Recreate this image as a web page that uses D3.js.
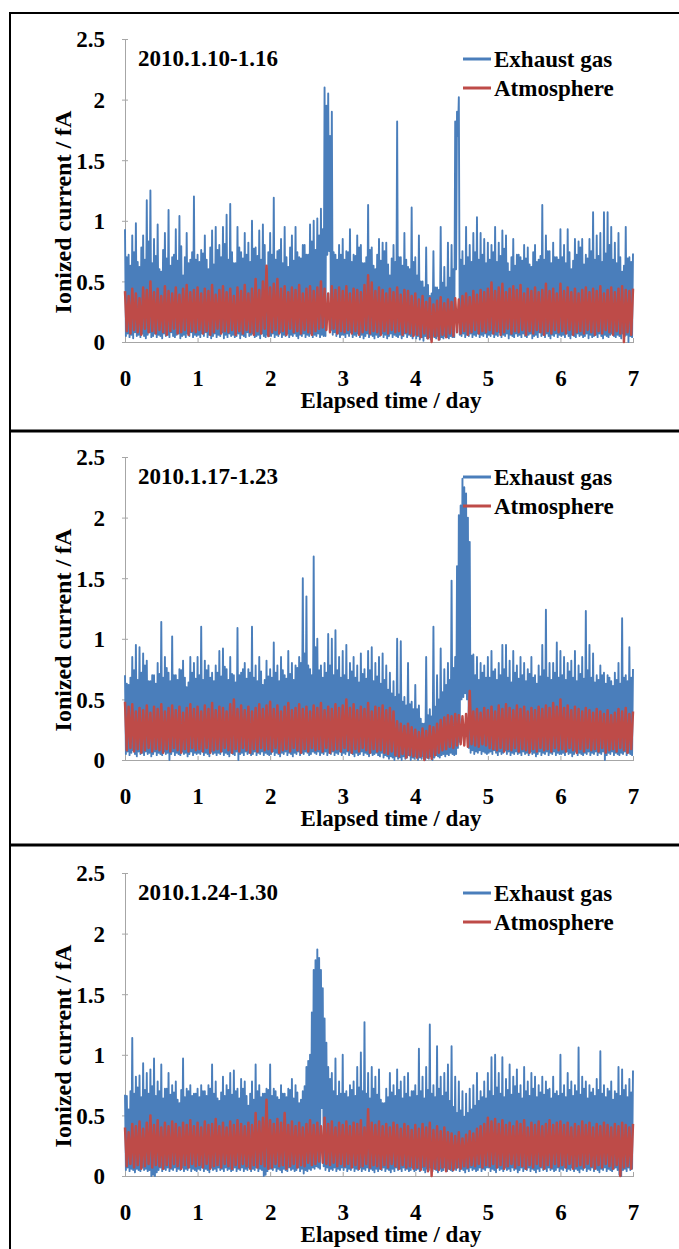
<!DOCTYPE html>
<html><head><meta charset="utf-8">
<script src="https://cdn.jsdelivr.net/npm/d3@7"></script>
<style>
body{margin:0;background:#fff}
svg{display:block}
text{font-family:"Liberation Serif","Times New Roman",serif;font-weight:bold;fill:#000}
</style>
</head><body><svg id="c" width="679" height="1249"></svg>
<script>
// ---- data ----
const periods = ["2010.1.10-1.16", "2010.1.17-1.23", "2010.1.24-1.30"];
const seriesNames = ["Exhaust gas", "Atmosphere"];
const xTicks = [0, 1, 2, 3, 4, 5, 6, 7];
const xTickLabels = ["0", "1", "2", "3", "4", "5", "6", "7"];
const yTicks = [0, 0.5, 1, 1.5, 2, 2.5];
const yTickLabels = ["0", "0.5", "1", "1.5", "2", "2.5"];
const xTitle = "Elapsed time / day";
const yTitle = "Ionized current / fA";

// Exhaust gas: local maxima every 0.025 day and the minima between them (fA)
const exhaustPeaks1 = [
0.93,0.70,0.72,0.63,0.88,0.74,0.98,0.66,0.62,0.78,0.88,0.68,1.17,0.83,1.25,0.65,0.85,0.71,0.97,0.60,
0.58,0.76,0.90,0.69,1.09,0.63,0.70,0.72,0.93,0.67,1.04,0.79,0.55,0.70,0.90,0.65,0.68,0.74,1.20,0.68,
0.72,0.66,0.76,0.73,0.88,0.68,0.60,0.78,0.92,0.64,0.95,0.76,0.80,0.70,0.95,0.81,1.05,0.68,1.14,0.74,
0.65,0.65,0.95,0.78,0.74,0.69,0.90,0.72,0.82,0.66,1.00,0.77,0.78,0.71,0.92,0.68,0.97,0.80,0.60,0.74,
0.90,0.72,1.19,0.68,0.75,0.76,0.85,0.65,0.95,0.70,0.62,0.78,0.88,0.67,0.95,0.74,0.70,0.69,0.80,0.80,
0.72,0.72,0.97,0.83,1.00,0.76,1.02,0.88,1.10,0.93,2.10,1.95,2.05,1.70,1.90,0.74,0.72,0.68,0.80,0.72,
0.85,0.68,0.75,0.74,0.93,0.66,0.72,0.71,0.88,0.78,0.80,0.65,0.65,0.70,1.13,0.76,0.78,0.63,0.60,0.72,
0.85,0.67,0.82,0.75,0.82,0.64,0.55,0.69,0.80,0.66,1.82,0.70,0.70,0.63,0.90,0.68,0.62,0.60,1.11,0.66,
0.70,0.55,0.88,0.50,0.50,0.45,0.78,0.47,0.38,0.40,0.75,0.45,0.45,0.43,0.95,0.49,0.62,0.45,0.82,0.53,
0.80,0.60,1.82,1.90,2.02,0.68,0.75,0.63,0.95,0.70,0.80,0.66,0.90,0.74,1.03,0.68,0.90,0.72,0.85,0.65,
0.82,0.68,0.80,0.74,0.95,0.66,0.82,0.71,0.92,0.77,0.88,0.65,0.58,0.70,0.85,0.63,0.72,0.72,0.70,0.67,
0.80,0.69,0.78,0.64,0.62,0.74,0.80,0.66,0.68,0.71,1.13,0.68,0.88,0.75,0.75,0.65,0.82,0.70,0.70,0.68,
0.93,0.70,0.80,0.65,0.93,0.74,0.60,0.67,0.85,0.72,0.83,0.78,0.85,0.64,0.72,0.69,0.85,0.75,1.07,0.68,
0.88,0.71,0.90,0.66,1.07,0.73,1.07,0.80,0.95,0.68,0.82,0.65,0.90,0.70,0.58,0.63,0.95,0.69,0.70,0.66,
0.73];
const exhaustTroughs1 = [
0.05,0.07,0.04,0.06,0.03,0.08,0.05,0.06,0.04,0.07,0.05,0.03,0.06,0.08,0.04,0.05,0.07,0.04,0.06,0.05,
0.03,0.07,0.05,0.06,0.04,0.08,0.05,0.04,0.06,0.07,0.03,0.05,0.06,0.04,0.07,0.05,0.08,0.04,0.06,0.05,
0.06,0.04,0.07,0.05,0.08,0.04,0.06,0.03,0.05,0.07,0.04,0.06,0.05,0.08,0.03,0.06,0.04,0.07,0.05,0.06,
0.04,0.05,0.07,0.03,0.06,0.05,0.04,0.08,0.05,0.06,0.07,0.04,0.05,0.06,0.03,0.07,0.05,0.04,0.06,0.05,
0.05,0.07,0.04,0.06,0.05,0.08,0.04,0.06,0.05,0.07,0.04,0.06,0.05,0.07,0.05,0.03,0.06,0.05,0.07,0.04,
0.06,0.05,0.07,0.04,0.06,0.05,0.07,0.04,0.06,0.05,0.05,0.72,0.75,0.10,0.06,0.08,0.05,0.07,0.04,0.06,
0.06,0.04,0.07,0.05,0.08,0.04,0.06,0.05,0.07,0.04,0.06,0.03,0.05,0.07,0.04,0.06,0.05,0.03,0.06,0.04,
0.05,0.07,0.04,0.06,0.03,0.05,0.07,0.04,0.06,0.05,0.04,0.06,0.03,0.05,0.07,0.04,0.06,0.05,0.03,0.06,
0.03,0.05,0.02,0.04,0.01,0.05,0.03,0.04,0.02,0.05,0.04,0.03,0.05,0.02,0.04,0.03,0.05,0.04,0.03,0.05,
0.04,0.04,0.60,1.70,0.06,0.05,0.07,0.04,0.06,0.05,0.07,0.04,0.06,0.05,0.07,0.04,0.06,0.05,0.07,0.04,
0.06,0.05,0.07,0.04,0.06,0.05,0.08,0.04,0.06,0.05,0.07,0.03,0.06,0.05,0.04,0.07,0.05,0.06,0.04,0.07,
0.05,0.04,0.06,0.07,0.03,0.05,0.06,0.04,0.08,0.05,0.06,0.04,0.07,0.05,0.03,0.06,0.05,0.07,0.04,0.06,
0.05,0.06,0.04,0.07,0.05,0.03,0.06,0.05,0.04,0.07,0.05,0.06,0.04,0.05,0.07,0.03,0.06,0.04,0.05,0.06,
0.04,0.07,0.05,0.03,0.06,0.05,0.04,0.06,0.07,0.05,0.04,0.06,0.05,0.03,0.07,0.05,0.06,0.00,0.05,0.04];
// Atmosphere: local maxima every 0.05 day and the minima between them (fA)
const atmosPeaks1 = [
0.42,0.38,0.44,0.40,0.36,0.45,0.43,0.50,0.41,0.44,0.38,0.46,0.42,0.40,0.45,0.39,0.44,0.47,0.41,0.43,
0.45,0.40,0.44,0.42,0.47,0.39,0.43,0.46,0.41,0.44,0.38,0.45,0.42,0.47,0.40,0.44,0.52,0.43,0.50,0.63,
0.45,0.48,0.52,0.44,0.46,0.41,0.45,0.43,0.47,0.40,0.44,0.46,0.42,0.45,0.50,0.44,0.40,0.46,0.43,0.45,
0.42,0.46,0.40,0.44,0.43,0.41,0.47,0.55,0.49,0.42,0.45,0.43,0.40,0.44,0.41,0.45,0.39,0.43,0.42,0.38,
0.40,0.35,0.38,0.33,0.36,0.31,0.34,0.37,0.32,0.35,0.33,0.36,0.35,0.38,0.40,0.37,0.42,0.39,0.43,0.41,
0.44,0.49,0.42,0.45,0.48,0.41,0.44,0.46,0.43,0.47,0.40,0.44,0.42,0.45,0.41,0.43,0.48,0.42,0.44,0.40,
0.48,0.42,0.45,0.41,0.44,0.40,0.43,0.45,0.41,0.44,0.42,0.46,0.40,0.43,0.45,0.41,0.44,0.46,0.43,0.42,
0.44];
const atmosTroughs1 = [
0.09,0.07,0.10,0.08,0.06,0.11,0.08,0.09,0.07,0.10,0.08,0.06,0.09,0.11,0.07,0.08,0.10,0.06,0.09,0.08,
0.10,0.07,0.09,0.06,0.08,0.11,0.07,0.09,0.08,0.10,0.06,0.09,0.07,0.10,0.08,0.06,0.09,0.07,0.11,0.05,
0.08,0.10,0.07,0.09,0.06,0.11,0.08,0.09,0.07,0.10,0.08,0.06,0.09,0.11,0.12,0.10,0.08,0.11,0.07,0.09,
0.08,0.10,0.07,0.09,0.06,0.08,0.10,0.07,0.09,0.08,0.06,0.09,0.07,0.10,0.08,0.09,0.06,0.08,0.07,0.05,
0.06,0.04,0.07,0.03,0.00,0.05,0.02,0.06,0.04,0.07,0.05,0.08,0.07,0.09,0.06,0.08,0.10,0.07,0.09,0.08,
0.10,0.07,0.09,0.06,0.08,0.11,0.07,0.09,0.08,0.10,0.06,0.09,0.07,0.10,0.08,0.06,0.09,0.07,0.10,0.08,
0.09,0.07,0.10,0.06,0.08,0.09,0.07,0.10,0.08,0.06,0.09,0.07,0.10,0.08,0.06,0.09,0.07,0.00,0.08,0.06];

const exhaustPeaks2 = [
0.70,0.63,0.62,0.68,0.85,0.74,0.95,0.66,0.93,0.72,0.88,0.78,0.82,0.65,0.65,0.70,0.70,0.63,0.80,0.71,
1.14,0.68,0.85,0.76,0.72,0.65,1.02,0.70,0.70,0.66,0.75,0.74,0.82,0.68,0.60,0.64,0.85,0.72,0.80,0.67,
0.85,0.70,1.10,0.66,0.82,0.74,0.78,0.68,0.72,0.65,0.78,0.72,0.90,0.69,0.92,0.77,0.75,0.66,0.85,0.71,
0.70,0.64,1.09,0.70,0.72,0.75,0.80,0.67,0.75,0.72,1.10,0.68,0.78,0.65,0.85,0.73,0.62,0.66,0.82,0.69,
0.75,0.68,0.97,0.72,0.78,0.65,0.85,0.74,0.70,0.67,0.90,0.71,0.80,0.66,0.78,0.76,0.85,0.80,1.50,0.88,
1.35,0.78,0.75,0.70,1.68,0.93,1.00,0.74,0.78,0.68,0.80,0.72,1.04,0.78,1.00,0.70,1.07,0.74,0.85,0.68,
0.90,0.70,0.95,0.66,0.80,0.73,0.85,0.68,0.78,0.64,0.88,0.71,0.75,0.67,0.90,0.74,0.93,0.65,0.80,0.69,
0.85,0.63,0.88,0.66,0.78,0.58,0.72,0.55,0.65,0.52,1.00,0.54,0.98,0.48,0.52,0.45,0.80,0.46,0.48,0.42,
0.62,0.42,0.45,0.34,0.30,0.30,0.85,0.37,0.42,0.36,1.10,0.44,0.70,0.50,0.92,0.56,0.75,0.62,0.80,0.66,
1.48,0.76,0.85,1.60,2.02,2.10,2.32,2.25,2.20,2.00,1.80,0.86,0.87,0.70,0.85,0.66,0.80,0.72,0.78,0.68,
0.85,0.68,0.90,0.73,0.75,0.66,0.80,0.70,0.95,0.75,0.95,0.68,0.82,0.64,0.90,0.72,0.78,0.67,0.85,0.70,
0.80,0.65,0.75,0.71,0.85,0.68,0.70,0.63,0.78,0.69,0.95,0.74,1.24,0.68,0.80,0.66,0.80,0.72,0.97,0.68,
0.90,0.70,0.85,0.66,0.80,0.73,0.82,0.68,0.90,0.65,0.78,0.71,0.85,0.67,1.23,0.74,0.95,0.68,0.88,0.64,
0.70,0.66,0.78,0.70,0.72,0.63,0.70,0.68,0.65,0.61,0.72,0.66,0.80,0.63,1.17,0.68,0.70,0.65,0.93,0.68,
0.75];
const exhaustTroughs2 = [
0.05,0.07,0.04,0.06,0.08,0.05,0.03,0.07,0.05,0.06,0.04,0.07,0.05,0.06,0.03,0.05,0.07,0.04,0.06,0.05,
0.04,0.07,0.05,0.06,0.00,0.05,0.07,0.04,0.06,0.05,0.04,0.07,0.05,0.06,0.03,0.05,0.07,0.04,0.06,0.05,
0.06,0.05,0.07,0.04,0.06,0.05,0.03,0.07,0.05,0.06,0.04,0.06,0.05,0.07,0.04,0.06,0.05,0.03,0.06,0.05,
0.04,0.07,0.00,0.05,0.06,0.04,0.07,0.05,0.06,0.04,0.05,0.07,0.04,0.06,0.05,0.07,0.04,0.06,0.05,0.04,
0.05,0.07,0.04,0.06,0.05,0.03,0.06,0.05,0.07,0.04,0.06,0.05,0.03,0.06,0.05,0.07,0.04,0.06,0.05,0.07,
0.06,0.04,0.05,0.07,0.06,0.05,0.07,0.04,0.06,0.05,0.07,0.04,0.06,0.05,0.07,0.04,0.06,0.05,0.07,0.04,
0.06,0.05,0.07,0.04,0.06,0.05,0.03,0.06,0.04,0.05,0.07,0.04,0.06,0.05,0.03,0.06,0.04,0.05,0.06,0.04,
0.03,0.06,0.02,0.04,0.03,0.01,0.03,0.02,0.00,0.03,0.01,0.02,0.00,0.03,0.01,0.02,0.04,0.00,0.02,0.01,
0.03,0.00,0.02,0.01,0.03,0.00,0.02,0.01,0.03,0.00,0.02,0.04,0.03,0.02,0.04,0.05,0.03,0.05,0.04,0.06,
0.05,0.04,0.05,0.10,0.15,0.50,0.52,0.55,0.50,0.10,0.06,0.08,0.05,0.07,0.06,0.08,0.05,0.07,0.06,0.05,
0.06,0.07,0.05,0.08,0.06,0.04,0.07,0.05,0.06,0.08,0.05,0.07,0.04,0.06,0.05,0.07,0.05,0.06,0.04,0.07,
0.05,0.06,0.04,0.07,0.05,0.06,0.03,0.05,0.07,0.04,0.06,0.05,0.07,0.04,0.06,0.05,0.07,0.04,0.06,0.05,
0.05,0.06,0.04,0.07,0.05,0.06,0.03,0.05,0.07,0.04,0.06,0.05,0.04,0.06,0.05,0.07,0.04,0.06,0.05,0.07,
0.04,0.06,0.05,0.07,0.00,0.04,0.06,0.05,0.07,0.04,0.06,0.05,0.04,0.06,0.05,0.07,0.04,0.06,0.05,0.04];
const atmosPeaks2 = [
0.48,0.44,0.46,0.40,0.43,0.41,0.45,0.39,0.44,0.42,0.46,0.40,0.43,0.45,0.41,0.44,0.39,0.43,0.46,0.42,
0.44,0.40,0.45,0.42,0.47,0.41,0.44,0.43,0.40,0.46,0.50,0.42,0.45,0.41,0.44,0.40,0.43,0.46,0.42,0.45,
0.48,0.42,0.45,0.40,0.44,0.47,0.41,0.43,0.46,0.42,0.44,0.40,0.45,0.43,0.47,0.41,0.44,0.42,0.46,0.43,
0.45,0.50,0.43,0.46,0.41,0.44,0.42,0.47,0.40,0.44,0.43,0.45,0.41,0.43,0.40,0.32,0.30,0.28,0.30,0.27,
0.25,0.23,0.26,0.24,0.28,0.27,0.30,0.33,0.35,0.37,0.36,0.38,0.37,0.36,0.38,0.57,0.40,0.42,0.39,0.43,
0.41,0.44,0.40,0.45,0.42,0.46,0.43,0.41,0.45,0.42,0.44,0.40,0.43,0.41,0.44,0.42,0.45,0.43,0.47,0.44,
0.50,0.43,0.45,0.41,0.44,0.42,0.40,0.43,0.41,0.39,0.42,0.40,0.38,0.41,0.37,0.39,0.42,0.40,0.43,0.38,
0.40];
const atmosTroughs2 = [
0.08,0.10,0.07,0.09,0.06,0.08,0.10,0.07,0.09,0.08,0.06,0.09,0.07,0.10,0.08,0.06,0.09,0.07,0.10,0.08,
0.09,0.07,0.10,0.06,0.08,0.09,0.07,0.10,0.08,0.06,0.09,0.07,0.10,0.08,0.06,0.09,0.07,0.10,0.08,0.09,
0.07,0.10,0.06,0.08,0.09,0.07,0.10,0.08,0.06,0.09,0.07,0.10,0.08,0.09,0.07,0.10,0.06,0.08,0.09,0.07,
0.10,0.08,0.06,0.09,0.07,0.10,0.08,0.06,0.09,0.07,0.08,0.06,0.05,0.07,0.04,0.03,0.05,0.02,0.04,0.03,
0.02,0.03,0.00,0.02,0.01,0.04,0.06,0.08,0.09,0.11,0.10,0.12,0.13,0.12,0.11,0.13,0.12,0.11,0.13,0.12,
0.10,0.09,0.08,0.10,0.07,0.09,0.08,0.10,0.07,0.09,0.08,0.06,0.09,0.07,0.10,0.08,0.09,0.07,0.10,0.08,
0.09,0.07,0.10,0.08,0.06,0.09,0.07,0.10,0.08,0.09,0.07,0.10,0.06,0.08,0.09,0.07,0.10,0.08,0.06,0.09];

const exhaustPeaks3 = [
0.67,0.66,0.55,0.70,1.14,0.68,0.82,0.73,0.83,0.65,0.93,0.71,0.85,0.68,0.88,0.74,0.97,0.66,0.78,0.70,
0.92,0.64,0.72,0.72,0.85,0.67,0.75,0.69,0.78,0.63,0.60,0.71,0.97,0.65,0.72,0.70,0.75,0.66,0.68,0.68,
0.72,0.65,0.75,0.70,0.70,0.66,0.75,0.72,0.92,0.68,0.78,0.64,0.62,0.69,0.82,0.66,0.75,0.71,0.85,0.67,
0.87,0.70,0.72,0.64,0.80,0.72,0.78,0.66,0.58,0.68,0.78,0.63,0.92,0.70,0.75,0.65,0.68,0.68,0.72,0.71,
0.92,0.66,0.72,0.70,0.65,0.63,0.75,0.68,0.68,0.65,0.72,0.71,0.80,0.64,0.75,0.69,0.60,0.63,0.70,0.74,
0.90,0.95,1.00,1.35,1.70,1.78,1.87,1.80,1.70,1.55,1.30,1.10,0.90,0.80,0.85,0.70,0.97,0.66,0.78,0.68,
1.00,0.68,0.70,0.65,0.75,0.71,0.78,0.66,0.90,0.73,1.02,0.70,1.27,0.68,0.85,0.64,0.90,0.72,0.82,0.67,
0.88,0.63,0.60,0.60,0.72,0.65,0.85,0.69,0.75,0.66,0.88,0.71,0.78,0.64,0.82,0.68,0.85,0.65,0.70,0.70,
0.75,0.66,1.05,0.70,0.82,0.64,0.90,0.71,1.25,0.68,0.75,0.65,1.07,0.72,0.82,0.66,0.85,0.69,0.92,0.62,
1.07,0.57,0.82,0.52,0.78,0.54,0.70,0.49,0.68,0.52,0.72,0.55,0.75,0.58,0.85,0.62,0.70,0.65,0.78,0.64,
0.85,0.70,0.98,0.66,1.00,0.73,0.85,0.68,0.98,0.65,0.80,0.71,0.92,0.67,0.82,0.74,0.88,0.68,0.75,0.64,
0.90,0.70,0.78,0.66,0.85,0.72,0.82,0.65,0.75,0.69,0.82,0.67,0.78,0.71,0.72,0.64,0.82,0.68,0.70,0.66,
1.00,0.68,0.75,0.65,0.85,0.71,0.78,0.66,0.75,0.70,1.06,0.67,0.82,0.72,0.78,0.64,0.75,0.69,0.72,0.66,
0.80,0.71,1.03,0.68,0.75,0.65,0.72,0.70,0.78,0.63,0.70,0.68,0.90,0.66,0.88,0.71,0.75,0.65,0.80,0.69,
0.87];
const exhaustTroughs3 = [
0.05,0.07,0.04,0.06,0.05,0.03,0.06,0.05,0.04,0.07,0.05,0.06,0.04,0.05,0.00,0.01,0.00,0.03,0.05,0.07,
0.04,0.06,0.05,0.07,0.04,0.06,0.05,0.07,0.04,0.06,0.05,0.07,0.04,0.06,0.05,0.07,0.04,0.06,0.05,0.04,
0.06,0.05,0.07,0.04,0.06,0.05,0.03,0.07,0.05,0.06,0.04,0.07,0.05,0.06,0.04,0.07,0.05,0.06,0.04,0.05,
0.07,0.04,0.06,0.05,0.07,0.04,0.06,0.05,0.07,0.04,0.06,0.05,0.07,0.04,0.06,0.05,0.00,0.01,0.04,0.06,
0.06,0.05,0.07,0.04,0.06,0.05,0.03,0.06,0.05,0.04,0.07,0.05,0.06,0.04,0.05,0.07,0.04,0.06,0.02,0.05,
0.04,0.06,0.05,0.07,0.06,0.08,0.07,0.06,0.56,0.08,0.05,0.07,0.04,0.06,0.05,0.07,0.04,0.06,0.05,0.07,
0.05,0.07,0.04,0.06,0.05,0.07,0.04,0.06,0.05,0.07,0.04,0.06,0.05,0.07,0.04,0.06,0.05,0.03,0.06,0.04,
0.06,0.05,0.07,0.04,0.06,0.05,0.03,0.06,0.04,0.07,0.05,0.06,0.04,0.07,0.05,0.06,0.04,0.05,0.07,0.04,
0.05,0.06,0.04,0.07,0.05,0.03,0.06,0.05,0.07,0.04,0.06,0.05,0.03,0.06,0.04,0.05,0.07,0.04,0.06,0.05,
0.04,0.06,0.05,0.07,0.04,0.06,0.05,0.03,0.06,0.04,0.07,0.05,0.06,0.04,0.05,0.07,0.04,0.06,0.05,0.07,
0.07,0.04,0.06,0.05,0.03,0.07,0.05,0.06,0.04,0.07,0.05,0.06,0.04,0.07,0.05,0.06,0.03,0.05,0.07,0.04,
0.06,0.05,0.07,0.04,0.06,0.05,0.03,0.06,0.04,0.07,0.05,0.06,0.04,0.07,0.05,0.06,0.04,0.05,0.07,0.04,
0.06,0.05,0.07,0.04,0.06,0.05,0.07,0.04,0.06,0.05,0.03,0.06,0.05,0.07,0.04,0.06,0.05,0.07,0.04,0.06,
0.05,0.03,0.06,0.05,0.07,0.04,0.06,0.05,0.04,0.06,0.07,0.05,0.01,0.00,0.05,0.06,0.04,0.07,0.05,0.06];
const atmosPeaks3 = [
0.40,0.36,0.43,0.41,0.45,0.39,0.44,0.50,0.42,0.46,0.40,0.44,0.41,0.45,0.43,0.40,0.44,0.42,0.46,0.41,
0.44,0.40,0.45,0.42,0.43,0.47,0.41,0.44,0.40,0.45,0.42,0.46,0.43,0.41,0.44,0.42,0.52,0.45,0.48,0.63,
0.46,0.43,0.47,0.44,0.52,0.42,0.45,0.41,0.44,0.40,0.43,0.46,0.42,0.44,0.41,0.48,0.43,0.45,0.40,0.44,
0.42,0.45,0.41,0.44,0.43,0.46,0.40,0.55,0.44,0.42,0.45,0.41,0.43,0.40,0.44,0.42,0.39,0.43,0.41,0.38,
0.42,0.39,0.43,0.40,0.44,0.38,0.41,0.37,0.40,0.36,0.35,0.33,0.36,0.31,0.34,0.37,0.35,0.39,0.41,0.43,
0.48,0.45,0.47,0.43,0.46,0.42,0.44,0.41,0.45,0.43,0.46,0.40,0.44,0.42,0.45,0.41,0.43,0.46,0.42,0.44,
0.45,0.42,0.44,0.40,0.43,0.41,0.45,0.42,0.44,0.40,0.43,0.41,0.44,0.42,0.40,0.43,0.41,0.44,0.42,0.40,
0.43];
const atmosTroughs3 = [
0.08,0.10,0.07,0.09,0.06,0.08,0.10,0.07,0.09,0.08,0.06,0.09,0.07,0.10,0.08,0.06,0.09,0.07,0.10,0.08,
0.09,0.07,0.10,0.06,0.08,0.09,0.07,0.10,0.08,0.06,0.09,0.07,0.10,0.08,0.06,0.09,0.07,0.10,0.08,0.06,
0.07,0.10,0.08,0.09,0.06,0.08,0.10,0.07,0.09,0.08,0.11,0.09,0.10,0.12,0.11,0.10,0.09,0.11,0.08,0.10,
0.08,0.10,0.07,0.09,0.06,0.08,0.10,0.07,0.09,0.08,0.06,0.09,0.07,0.10,0.08,0.06,0.09,0.07,0.08,0.06,
0.07,0.05,0.08,0.04,0.00,0.06,0.05,0.07,0.04,0.06,0.05,0.07,0.06,0.08,0.07,0.09,0.08,0.10,0.07,0.09,
0.08,0.10,0.07,0.09,0.06,0.08,0.10,0.07,0.09,0.08,0.06,0.09,0.07,0.10,0.08,0.06,0.09,0.07,0.10,0.08,
0.09,0.07,0.10,0.06,0.08,0.09,0.07,0.10,0.08,0.06,0.09,0.07,0.10,0.08,0.06,0.09,0.00,0.07,0.08,0.06];

const panelData = [
  {period: periods[0], series: [[exhaustPeaks1, exhaustTroughs1], [atmosPeaks1, atmosTroughs1]]},
  {period: periods[1], series: [[exhaustPeaks2, exhaustTroughs2], [atmosPeaks2, atmosTroughs2]]},
  {period: periods[2], series: [[exhaustPeaks3, exhaustTroughs3], [atmosPeaks3, atmosTroughs3]]}
];

// ---- layout ----
const colors = ["#4a7ebb", "#be4b48"];
const lineWidths = [1.9, 2.5];
const panelTops = [12, 431, 845];
const plotTops = [39, 457, 873];
const plotH = 303, plotL = 125, plotR = 633;
const axisColor = "#a6a6a6";

const svg = d3.select("#c");
svg.append("rect").attr("width", 679).attr("height", 1249).attr("fill", "#fff");

// merge maxima/minima into a single time-ordered trace
function trace(peaks, troughs) {
  const step = 7 / (peaks.length - 1);
  const out = [];
  peaks.forEach((v, i) => {
    out.push([i * step, v]);
    if (i < troughs.length && i < peaks.length - 1) out.push([(i + 0.5) * step, troughs[i]]);
  });
  return out;
}

panelData.forEach((pd, p) => {
  const top = plotTops[p];
  const x = d3.scaleLinear().domain([0, 7]).range([plotL, plotR]);
  const y = d3.scaleLinear().domain([0, 2.5]).range([top + plotH, top]);
  const g = svg.append("g");

  // y axis
  const ya = g.append("g").attr("transform", `translate(${plotL},0)`)
    .call(d3.axisLeft(y).tickValues(yTicks).tickFormat((d, i) => yTickLabels[i])
      .tickSizeInner(3).tickSizeOuter(0).tickPadding(17));
  ya.select(".domain").attr("stroke", axisColor);
  ya.selectAll(".tick line").attr("stroke", axisColor).attr("x2", 3).attr("x1", -3);
  ya.selectAll(".tick text").attr("font-size", 23).attr("font-family", null).attr("dy", "0.34em");

  // x axis
  const xa = g.append("g").attr("transform", `translate(0,${y(0)})`)
    .call(d3.axisBottom(x).tickValues(xTicks).tickFormat((d, i) => xTickLabels[i])
      .tickSizeInner(-4).tickSizeOuter(0));
  xa.select(".domain").attr("stroke", axisColor);
  xa.selectAll(".tick line").attr("stroke", axisColor).attr("y1", 1);
  xa.selectAll(".tick text").attr("font-size", 23).attr("font-family", null)
    .attr("y", 44).attr("dy", null);

  // data lines
  const line = d3.line().x(d => x(d[0])).y(d => y(d[1]));
  pd.series.forEach((s, k) => {
    g.append("path").datum(trace(s[0], s[1]))
      .attr("d", line).attr("fill", "none").attr("stroke", colors[k])
      .attr("stroke-width", lineWidths[k]).attr("stroke-linejoin", "round");
  });

  // period label
  g.append("text").attr("x", 138).attr("y", top + 26.5).attr("font-size", 23).text(pd.period);

  // legend
  seriesNames.forEach((nm, k) => {
    const ly = top + 20 + k * 29;
    g.append("line").attr("x1", 463).attr("x2", 491).attr("y1", ly).attr("y2", ly)
      .attr("stroke", colors[k]).attr("stroke-width", 3);
    g.append("text").attr("x", 494).attr("y", ly).attr("dy", "0.33em")
      .attr("font-size", 23).text(nm);
  });

  // axis titles
  g.append("text").attr("x", 391).attr("y", y(0) + 66).attr("text-anchor", "middle")
    .attr("font-size", 23).text(xTitle);
  g.append("text").attr("transform", `translate(63,${top + 173}) rotate(-90)`)
    .attr("text-anchor", "middle").attr("dy", "0.35em").attr("font-size", 24).text(yTitle);
});

// panel frames
const frame = svg.append("g").attr("stroke", "#000").attr("fill", "none");
frame.append("line").attr("x1", 9).attr("x2", 679).attr("y1", 13).attr("y2", 13).attr("stroke-width", 2);
frame.append("line").attr("x1", 9).attr("x2", 679).attr("y1", panelTops[1]).attr("y2", panelTops[1]).attr("stroke-width", 3);
frame.append("line").attr("x1", 9).attr("x2", 679).attr("y1", panelTops[2]).attr("y2", panelTops[2]).attr("stroke-width", 3);
frame.append("line").attr("x1", 10).attr("x2", 10).attr("y1", 12).attr("y2", 1249).attr("stroke-width", 2);
</script>
</body></html>
